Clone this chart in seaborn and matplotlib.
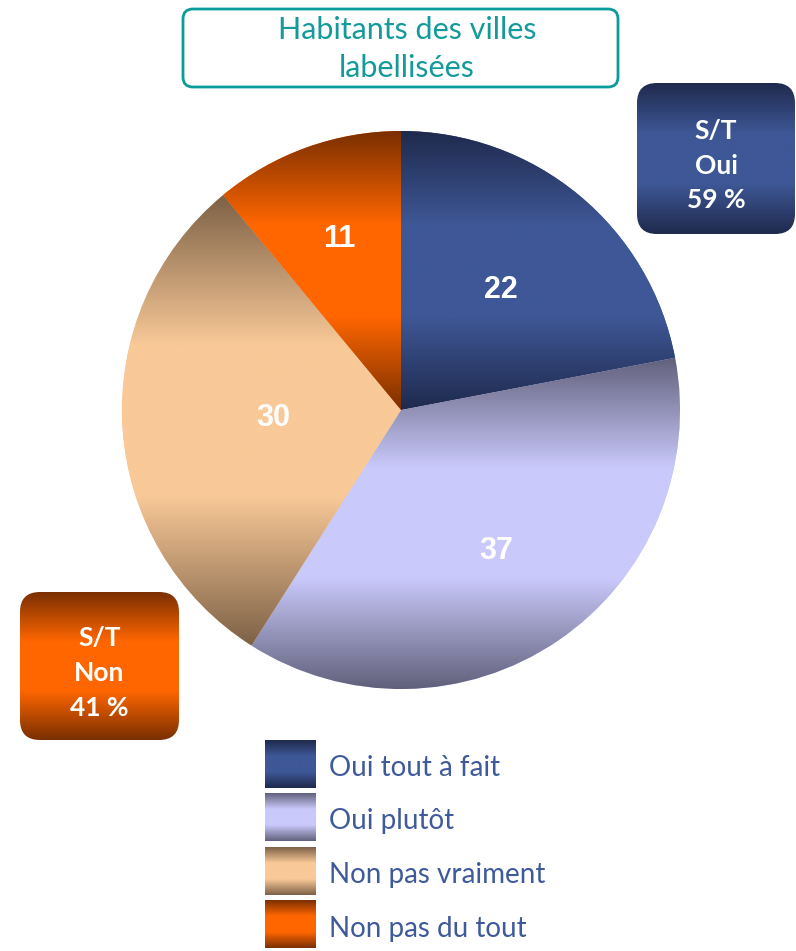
import numpy as np
import matplotlib
matplotlib.use("Agg")
import matplotlib.pyplot as plt
from matplotlib.patches import FancyBboxPatch
import seaborn as sns

# --- data ---
categories = ["Oui tout à fait", "Oui plutôt", "Non pas vraiment", "Non pas du tout"]
values = [22, 37, 30, 11]
subtotal_names = ["Oui", "Non"]
subtotal_values = [59, 41]
title_lines = ["Habitants des villes", "labellisées"]

# --- styles ---
dark_colors = ["#1f2a4d", "#61607b", "#7d6146", "#7a2f00"]
light_colors = ["#3e5796", "#c9c9fb", "#f9c998", "#ff6600"]
label_radius = [0.56, 0.61, 0.46, 0.65]

sns.set_theme(style="white")
plt.rcParams['font.family'] = ['Lato', 'DejaVu Sans']

W, H = 796, 951
fig = plt.figure(figsize=(W / 100, H / 100), dpi=100)


def gradient(dark, light):
    # dark -> light -> dark vertical band, like the office "gradient" fill
    pal = sns.blend_palette([dark, light, light, dark], n_colors=256)
    return np.array(pal)[:, None, :]


# background axes in pixel coordinates (y down)
bg = fig.add_axes([0, 0, 1, 1])

# title box
bg.add_patch(FancyBboxPatch((183, 9), 435, 78, boxstyle="round,pad=0,rounding_size=10",
                            fc="white", ec="#0a9c9a", lw=2.0))
bg.text(407, 30, title_lines[0], ha="center", va="center", color="#149a9a", fontsize=22)
bg.text(407, 68, title_lines[1], ha="center", va="center", color="#149a9a", fontsize=22)

# subtotal boxes
boxes = [(637, 83, 158, 151, 0), (20, 592, 159, 148, 3)]
for (x0, y0, w, h, ci), name, val in zip(boxes, subtotal_names, subtotal_values):
    p = FancyBboxPatch((x0, y0), w, h, boxstyle="round,pad=0,rounding_size=20",
                       fc="none", ec="none")
    bg.add_patch(p)
    im = bg.imshow(gradient(dark_colors[ci], light_colors[ci]), extent=(x0, x0 + w, y0 + h, y0),
                   origin="upper", aspect="auto", interpolation="bilinear", zorder=1)
    im.set_clip_path(p)
    xc = x0 + w / 2
    for k, txt in enumerate(["S/T", name, f"{val} %"]):
        bg.text(xc, y0 + h / 2 - 28 + 35 * k, txt, ha="center", va="center",
                color="white", fontsize=19, fontweight="bold", zorder=3)

# legend
for i, cat in enumerate(categories):
    y0 = 740 + 53.5 * i
    bg.imshow(gradient(dark_colors[i], light_colors[i]), extent=(265, 316, y0 + 48, y0),
              origin="upper", aspect="auto", interpolation="bilinear", zorder=1)
    bg.text(329, y0 + 28, cat, ha="left", va="center", color="#3f5a9b", fontsize=20)

bg.set_xlim(0, W)
bg.set_ylim(H, 0)
bg.axis("off")

# pie
cx, cy, r, pad = 401, 410, 279, 1.03
ax = fig.add_axes([(cx - r * pad) / W, (H - cy - r * pad) / H, 2 * r * pad / W, 2 * r * pad / H])
wedges, _ = ax.pie(values, startangle=90, counterclock=False, radius=1,
                   colors=light_colors, wedgeprops=dict(linewidth=0))
for i, wdg in enumerate(wedges):
    bb = wdg.get_path().get_extents()
    im = ax.imshow(gradient(dark_colors[i], light_colors[i]), extent=(bb.x0, bb.x1, bb.y0, bb.y1),
                   origin="upper", aspect="auto", interpolation="bilinear", zorder=2)
    im.set_clip_path(wdg)
    ang = np.deg2rad((wdg.theta1 + wdg.theta2) / 2)
    ax.text(label_radius[i] * np.cos(ang), label_radius[i] * np.sin(ang), str(values[i]),
            ha="center", va="center", color="white", fontsize=22, fontweight="bold",
            family="Liberation Sans", zorder=3)
ax.set_xlim(-pad, pad)
ax.set_ylim(-pad, pad)
ax.set_aspect("equal")
ax.axis("off")

fig.savefig("out.png", dpi=100)
